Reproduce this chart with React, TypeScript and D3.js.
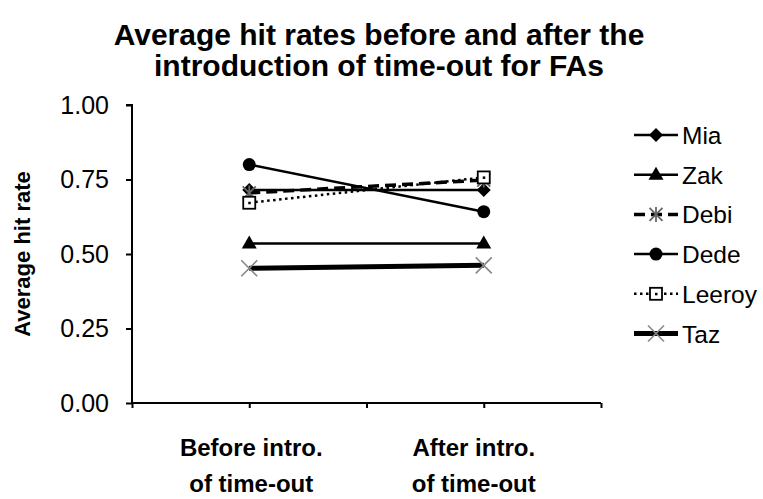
import { useEffect, useRef } from "react"
import * as d3 from "d3"

const categories = ["Before intro.|of time-out", "After intro.|of time-out"]
const yTicks = [0, 0.25, 0.5, 0.75, 1]

const mia = [0.715, 0.715]
const zak = [0.535, 0.535]
const debi = [0.705, 0.748]
const dede = [0.8, 0.642]
const leeroy = [0.672, 0.757]
const taz = [0.452, 0.462]

type Marker = "diamond" | "triangle" | "star" | "circle" | "square" | "x"

interface Series {
  name: string
  values: number[]
  width: number
  dash: string
  marker: Marker
}

const series: Series[] = [
  { name: "Mia", values: mia, width: 2.5, dash: "", marker: "diamond" },
  { name: "Zak", values: zak, width: 2.5, dash: "", marker: "triangle" },
  { name: "Debi", values: debi, width: 3.5, dash: "11,6", marker: "star" },
  { name: "Dede", values: dede, width: 2.5, dash: "", marker: "circle" },
  { name: "Leeroy", values: leeroy, width: 2.5, dash: "2.5,3.5", marker: "square" },
  { name: "Taz", values: taz, width: 5, dash: "", marker: "x" },
]

function drawMarker(g: d3.Selection<SVGGElement, unknown, null, undefined>, m: Marker, x: number, y: number) {
  if (m === "diamond") {
    g.append("path").attr("d", `M${x},${y - 7}L${x + 7},${y}L${x},${y + 7}L${x - 7},${y}Z`).attr("fill", "#000")
  } else if (m === "triangle") {
    g.append("path").attr("d", `M${x},${y - 8}L${x + 7.5},${y + 5}L${x - 7.5},${y + 5}Z`).attr("fill", "#000")
  } else if (m === "circle") {
    g.append("circle").attr("cx", x).attr("cy", y).attr("r", 6.5).attr("fill", "#000")
  } else if (m === "square") {
    g.append("rect").attr("x", x - 6).attr("y", y - 6).attr("width", 12).attr("height", 12)
      .attr("fill", "#fff").attr("stroke", "#000").attr("stroke-width", 1.8)
    g.append("rect").attr("x", x - 1).attr("y", y - 1).attr("width", 2.5).attr("height", 2.5).attr("fill", "#000")
  } else if (m === "star") {
    const s = 6.5
    g.append("path")
      .attr("d", `M${x - s},${y - s}L${x + s},${y + s}M${x - s},${y + s}L${x + s},${y - s}M${x},${y - s - 1}L${x},${y + s + 1}`)
      .attr("stroke", "#666").attr("stroke-width", 1.8)
  } else if (m === "x") {
    const s = 8
    g.append("path")
      .attr("d", `M${x - s},${y - s}L${x + s},${y + s}M${x - s},${y + s}L${x + s},${y - s}`)
      .attr("stroke", "#888").attr("stroke-width", 1.6)
  }
}

export default function App() {
  const svgRef = useRef<SVGSVGElement>(null)

  useEffect(() => {
    if (!svgRef.current) return
    const svg = d3.select(svgRef.current)
    svg.selectAll("*").remove()

    const font = "'Liberation Sans', Arial, sans-serif"
    const x = d3.scaleLinear().domain([0, 4]).range([132, 601])
    const y = d3.scaleLinear().domain([0, 1]).range([403, 105])
    const catX = (i: number) => x(i * 2 + 1)

    // title
    const title = svg.append("text").attr("text-anchor", "middle").attr("font-family", font)
      .attr("font-weight", "bold").attr("font-size", 30)
    title.append("tspan").attr("x", 379).attr("y", 45).text("Average hit rates before and after the")
    title.append("tspan").attr("x", 379).attr("y", 76).text("introduction of time-out for FAs")

    // y axis
    const yAxis = svg.append("g").attr("transform", `translate(${x(0)},0)`)
      .call(d3.axisLeft(y).tickValues(yTicks).tickSize(6).tickPadding(17).tickFormat(d3.format(".2f")))
    yAxis.select(".domain").attr("stroke", "#000").attr("stroke-width", 2).attr("d", `M-6,${y(1)}H0V${y(0)}`)
    yAxis.selectAll(".tick line").attr("stroke", "#000").attr("stroke-width", 2)
    yAxis.selectAll(".tick text").attr("font-family", font).attr("font-size", 25).attr("fill", "#000")

    // x axis
    const xAxis = svg.append("g").attr("transform", `translate(0,${y(0)})`)
      .call(d3.axisBottom(x).tickValues([0, 1, 2, 3, 4]).tickSize(5).tickFormat(() => ""))
    xAxis.select(".domain").attr("stroke", "#000").attr("stroke-width", 2).attr("d", `M${x(0)},0H${x(4)}`)
    xAxis.selectAll(".tick line").attr("stroke", "#000").attr("stroke-width", 2)

    // category labels
    categories.forEach((c, i) => {
      const t = svg.append("text").attr("text-anchor", "middle").attr("font-family", font)
        .attr("font-weight", "bold").attr("font-size", 24)
      c.split("|").forEach((line, j) => {
        t.append("tspan").attr("x", catX(i) + (i === 0 ? 2 : -10)).attr("y", 456 + j * 36).text(line)
      })
    })

    // y axis title
    svg.append("text").attr("transform", `translate(30,${y(0.5)}) rotate(-90)`)
      .attr("text-anchor", "middle").attr("font-family", font).attr("font-weight", "bold")
      .attr("font-size", 22).text("Average hit rate")

    // lines
    const line = d3.line<number>().x((_, i) => catX(i)).y((d) => y(d))
    const plot = svg.append("g")
    series.forEach((s) => {
      plot.append("path").datum(s.values).attr("fill", "none").attr("stroke", "#000")
        .attr("stroke-width", s.width).attr("stroke-dasharray", s.dash || null).attr("d", line)
    })
    series.forEach((s) => {
      s.values.forEach((v, i) => drawMarker(plot, s.marker, catX(i), y(v)))
    })

    // legend
    const legend = svg.append("g")
    series.forEach((s, i) => {
      const ly = 135 + i * 39.7
      legend.append("path").attr("d", `M634,${ly}H678`).attr("stroke", "#000")
        .attr("stroke-width", s.width).attr("stroke-dasharray", s.dash || null)
      drawMarker(legend, s.marker, 656, ly)
      legend.append("text").attr("x", 682).attr("y", ly + 9).attr("font-family", font)
        .attr("font-size", 24.5).text(s.name)
    })
  }, [])

  return (
    <svg ref={svgRef} width={763} height={499}
      style={{ position: "absolute", left: 0, top: 0, background: "#fff" }} />
  )
}
